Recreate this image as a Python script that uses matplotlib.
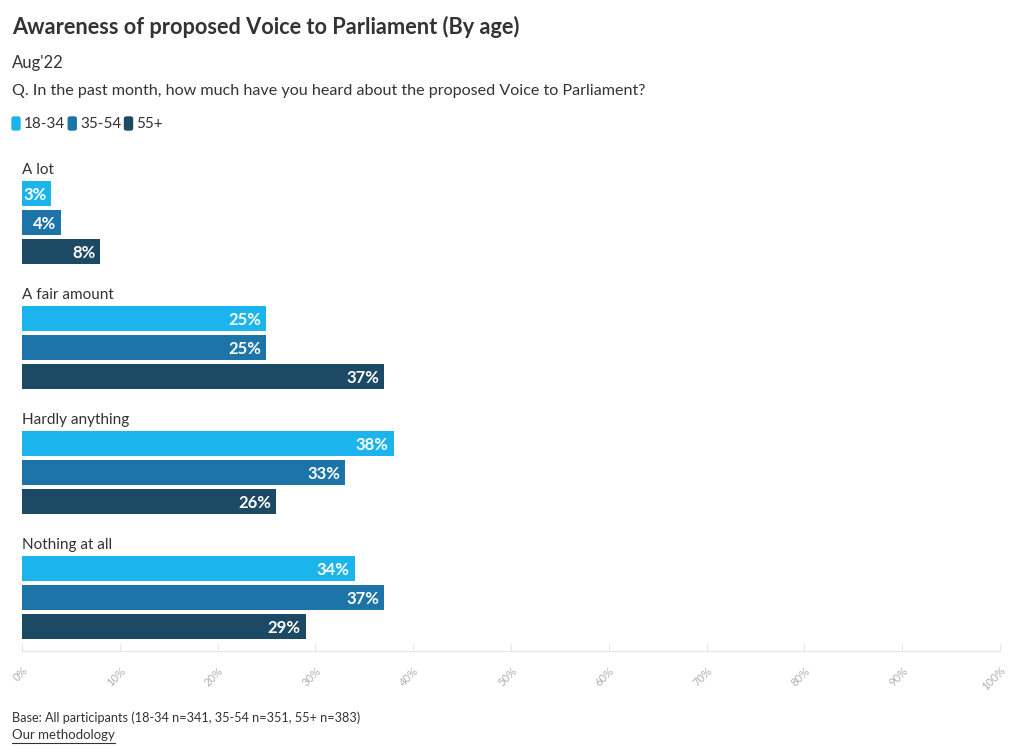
import numpy as np
import matplotlib.pyplot as plt
from matplotlib.patches import FancyBboxPatch

# DATA
categories = ['A lot', 'A fair amount', 'Hardly anything', 'Nothing at all']
groups = ['18-34', '35-54', '55+']
values_1834 = [3, 25, 38, 34]
values_3554 = [4, 25, 33, 37]
values_55p = [8, 37, 26, 29]
ticks = np.arange(0, 101, 10)
tick_labels = [f'{t}%' for t in ticks]

colors = ['#1cb4ec', '#1d74a8', '#1c4a64']
TXT = '#333333'
plt.rcParams['font.family'] = ['Lato', 'DejaVu Sans']

W, H = 1020, 753
fig = plt.figure(figsize=(W / 100, H / 100), dpi=100)

# axes placed in pixel terms
ax = fig.add_axes([22 / W, 1 - 651 / H, 978 / W, (651 - 155) / H])

pitch = 125 / 29  # group spacing in bar units
bar_h = 25 / 29
series = [values_1834, values_3554, values_55p]
for j, vals in enumerate(series):
    for i, v in enumerate(vals):
        y = i * pitch + j
        ax.barh(y, v, height=bar_h, color=colors[j], edgecolor='none')
        ax.text(v - 0.5, y + 0.06, f'{v}%', ha='right', va='center',
                color='white', fontsize=12, fontweight='bold')
for i, c in enumerate(categories):
    ax.text(0, i * pitch - 0.8, c, ha='left', va='center', color=TXT, fontsize=11)

ax.set_xlim(0, 100)
ax.set_ylim((651 - 193) / 29, (155 - 193) / 29)
for s in ['top', 'right', 'left']:
    ax.spines[s].set_visible(False)
ax.spines['bottom'].set_color('#e6e6e6')
ax.set_yticks([])
ax.set_xticks(ticks)
ax.set_xticklabels(tick_labels, rotation=45, ha='right', rotation_mode='anchor',
                   color='#b0b0b0', fontsize=8)
ax.tick_params(axis='x', direction='in', length=5, color='#e6e6e6', pad=10)

# header
fig.text(12 / W, 1 - 27 / H, 'Awareness of proposed Voice to Parliament (By age)',
         fontsize=15.7, fontweight='bold', color=TXT, va='center')
fig.text(12 / W, 1 - 63 / H, "Aug'22", fontsize=12, color=TXT, va='center')
fig.text(12 / W, 1 - 91 / H,
         'Q. In the past month, how much have you heard about the proposed Voice to Parliament?',
         fontsize=11.6, color=TXT, va='center')

# legend
fig.canvas.draw()
rend = fig.canvas.get_renderer()
x = 12
for g, c in zip(groups, colors):
    fig.patches.append(FancyBboxPatch((x / W, 1 - 130 / H), 8 / W, 13 / H,
                                      boxstyle='round,pad=0,rounding_size=0.002',
                                      transform=fig.transFigure, color=c))
    t = fig.text((x + 12) / W, 1 - 124 / H, g, fontsize=11, color=TXT, va='center')
    x = t.get_window_extent(rend).x1 + 3

# footer
fig.text(12 / W, 1 - 718 / H, 'Base: All participants (18-34 n=341, 35-54 n=351, 55+ n=383)',
         fontsize=9.1, color=TXT, va='center')
t = fig.text(12 / W, 1 - 735 / H, 'Our methodology', fontsize=9.5, color=TXT, va='center')
bb = t.get_window_extent(rend)
fig.add_artist(plt.Line2D([bb.x0 / W, bb.x1 / W], [1 - 743 / H, 1 - 743 / H],
                          color=TXT, lw=0.8, transform=fig.transFigure))

fig.savefig('out.png', dpi=100)
